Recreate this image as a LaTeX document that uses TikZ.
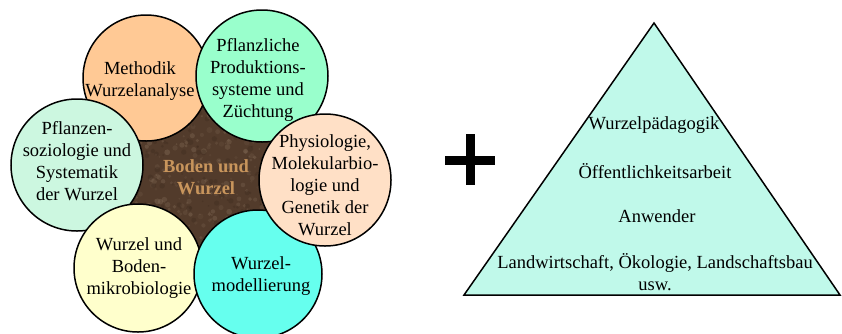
\documentclass[tikz,border=0pt]{standalone}
\usepackage{fontspec}
\setmainfont{Liberation Serif}
\definecolor{soil}{HTML}{523B2B}
\definecolor{soillight}{HTML}{8C7560}
\definecolor{soildark}{HTML}{3A281C}
\definecolor{soiltext}{HTML}{C8955C}
\definecolor{cOrange}{HTML}{FFC995}
\definecolor{cGreen}{HTML}{99FFCC}
\definecolor{cMint}{HTML}{CCF7E0}
\definecolor{cYellow}{HTML}{FFFFCC}
\definecolor{cCyan}{HTML}{66FFEE}
\definecolor{cPeach}{HTML}{FFE0C6}
\definecolor{cTri}{HTML}{C0F9EA}
\tikzset{
  bubble/.style={circle, draw=black, line width=1.5pt, inner sep=0pt},
  btext/.style={align=center, font=\fontsize{18.5}{22}\selectfont, inner sep=0pt},
  ttext/.style={align=center, font=\fontsize{18.5}{22}\selectfont, inner sep=0pt},
}
\begin{document}
\begin{tikzpicture}[x=1pt,y=-1pt]
\useasboundingbox (0,0) rectangle (842,333);
% soil background
\begin{scope}
  \clip (205,175) circle (95);
  \fill[soil] (205,175) circle (95);
  \pgfmathsetseed{7}
  \foreach \i in {1,...,500}{
    \pgfmathsetmacro{\px}{110+190*rnd}
    \pgfmathsetmacro{\py}{80+190*rnd}
    \pgfmathsetmacro{\pr}{0.8+2.2*rnd}
    \pgfmathsetmacro{\po}{0.10+0.25*rnd}
    \fill[soillight, opacity=\po] (\px,\py) circle (\pr);
  }
  \foreach \i in {1,...,250}{
    \pgfmathsetmacro{\px}{110+190*rnd}
    \pgfmathsetmacro{\py}{80+190*rnd}
    \pgfmathsetmacro{\pr}{0.8+2.2*rnd}
    \fill[soildark, opacity=0.3] (\px,\py) circle (\pr);
  }
\end{scope}
% circles
\node[bubble, fill=cOrange, minimum size=126pt] (meth) at (146,78) {};
\node[bubble, fill=cGreen, minimum size=132pt] (prod) at (262,76) {};
\node[bubble, fill=cMint, minimum size=132pt] (soz) at (77,165) {};
\node[bubble, fill=cYellow, minimum size=128pt] (mikro) at (138,268) {};
\node[bubble, fill=cCyan, minimum size=128pt] (mod) at (258,274) {};
\node[bubble, fill=cPeach, minimum size=132pt] (phys) at (325,180) {};
% texts
\node[btext] (tmeth) at (140,81) {Methodik\\Wurzelanalyse};
\node[btext] (tprod) at (258,80) {Pflanzliche\\Produktions-\\systeme und\\Züchtung};
\node[btext] (tsoz) at (77,161) {Pflanzen-\\soziologie und\\Systematik\\der Wurzel};
\node[btext] (tphys) at (325,185) {Physiologie,\\Molekularbio-\\logie und\\Genetik der\\Wurzel};
\node[btext] (tmikro) at (139,268) {Wurzel und\\Boden-\\mikrobiologie};
\node[btext] (tmod) at (261,276) {Wurzel-\\modellierung};
\node[btext, text=soiltext, font=\fontsize{18.5}{22}\selectfont\bfseries] (soiltxt) at (206,177) {Boden und\\Wurzel};
% plus
\fill[black] (445,155.5) rectangle (495,164.5);
\fill[black] (465.5,134) rectangle (474.5,185);
\coordinate (plus) at (470,160);
% triangle
\coordinate (apex) at (654,23);
\coordinate (bl) at (464,295);
\coordinate (br) at (840,295);
\draw[line width=1.5pt, fill=cTri, line join=miter] (apex) -- (br) -- (bl) -- cycle;
\node[ttext] (t1) at (654,125) {Wurzelpädagogik};
\node[ttext] (t2) at (655,171) {Öffentlichkeitsarbeit};
\node[ttext] (t3) at (657,216) {Anwender};
\node[ttext] (t4) at (655,272) {Landwirtschaft, Ökologie, Landschaftsbau\\usw.};
\end{tikzpicture}
\end{document}
